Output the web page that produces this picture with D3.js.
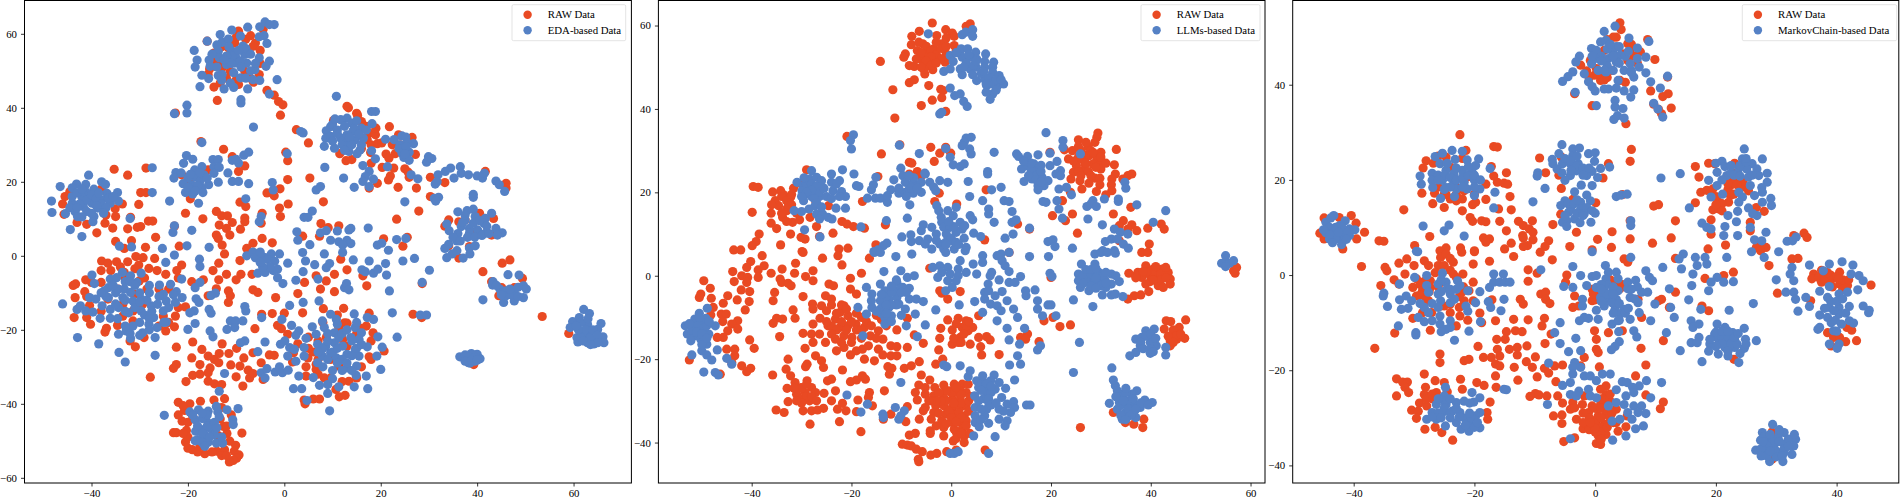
<!DOCTYPE html>
<html>
<head>
<meta charset="utf-8">
<script src="https://d3js.org/d3.v7.min.js"></script>
<style>
html, body { margin: 0; padding: 0; background: #fff; }
svg { display: block; }
text { font-family: "Liberation Serif", serif; fill: #000; }
</style>
</head>
<body>
<div id="chart"></div>
<script>
var rawEda = [[-16,58],[-9.5,60.7],[-8,58.5],[-6,57.5],[-6.5,56.6],[-5,55.5],[-14.6,54.8],[-14.1,52.6],[-11.6,56.2],[-10.3,57.5],[-12.9,50.8],[-11.2,49.9],[-8.2,49.9],[-5.2,49],[-15.8,49],[-14.6,45.6],[-13.3,46.7],[-9.5,46.3],[-6.4,46.9],[-13.9,42],[-3.6,44.7],[-2.1,43.4],[-1.2,41.7],[-0.3,40.8],[-0.8,38],[-4.4,61.2],[-22.6,38.6],
[13,40.4],[13.3,40],[10.2,36.6],[15.2,37.9],[16,36.3],[21.8,34.9],[17.6,33.2],[18.9,32.7],[17.2,31.4],[19.3,30.3],[20.2,30.5],[22.4,30],[23.7,32.7],[26.5,32],[27.2,27.4],[23,27.6],[21.1,27.5],[21.7,26.4],[17.9,27.9],[11.5,27.6],[12.8,25.7],[20.3,23.9],[22.7,23.7],[25,23.5],[25.7,22.6],[22,21.6],[21.6,20.5],[25.9,21.2],[30.3,21.2],[33.3,19.8],[19.3,19.6],[17.6,18.3],[23.6,18.5],[27.4,18.3],[30.3,16],[27.9,12.1],[23.3,9.9],[41.7,22.8],[46,19.6],[46,18.3],
[33.3,8],[34.1,9.7],[36.2,9.2],[40.5,11.5],[43.4,10.1],[43,5.6],[38.4,2.5],[39.2,6.1],[37.5,9.7],[34.1,2.7],
[-35.3,23.4],[-32.5,21.8],[-28.7,23.7],[-29.8,17.1],[-28.7,17.1],[-33.6,14],[-30.2,13.9],[-35.1,12.7],[-31.9,10.4],[-35,10.6],[-28.2,9.4],[-27.3,9.4],[-29.8,7.9],[-30.5,7.7],[-35.6,7.5],[-32.5,7.3],[-37.2,8.8],[-38.9,6.2],[-26.7,5],[-31.7,4.1],[-35,3.9],[-45.5,16],[-45.7,11.2],[-44.5,17.3],
[-17.3,30.9],[-12.6,28.8],[-20.5,11.5],[-16.9,10],[-22.8,8],[-19.5,15.4],[-21.3,21.9],[-19.6,20.1],[-15.8,23.2],[-10.8,26.8],[-8.2,24.3],[-9.5,22.8],[-9.2,14.5],[-8,13.3],[-14.1,12],[-13,10.8],[-11.8,10.8],[-8.2,10.2],[-8.2,9.2],[-10.8,9],[-13.5,8.3],[-12,7.4],[-9.1,7.2],[-14.1,5.6],[-13.7,4.7],[-11.3,5.6],[-12.9,2.9],[-4.8,8.8],[-4.6,11.5],[-3.6,17],[-2.1,16.2],[-0.9,18.1],[0.7,20.6],[0.7,25.7],[0.3,28],[0.8,14],[-1,12.9],[-0.8,10.6],
[2.5,34.1],[5,30.5],[5.3,21],[8.1,14.6],[7.6,8.7],[3.8,5.3],[9.1,7.6],[11.3,8.1],[7.3,5.3],[20.6,4.6],[25.5,5],[24.6,2.6],[-6.5,3.4],[-4.6,4.7],[-2.5,3.5],[-7.8,2],[-21.8,2.6],[-28.8,2.3],[-33.2,2],
[-37.9,-1.4],[-36.6,-2],[-34.8,-1.6],[-32.5,-1.6],[-30.8,-0.2],[-29.3,-0.5],[-30.2,-2.5],[-28.1,-3.4],[-26.9,-0.7],[-24.6,-5],[-26.4,-4],[-22.3,-4],[-21.3,-2.5],[-12.4,0.5],[-13.6,-2],[-14.8,-4],[-12,-5],[-9.2,-1.3],[-9,-5],[-10,-6.5],[-13.6,-6.5],[-16.8,-6.5],[-19.2,-7],[-14.1,-8.9],[-15.8,-10.8],[-11.6,-9.5],[-11.2,-10.8],[-11.6,-12.6],[-6.7,-5],[-6.5,-9.2],[-5.5,-9.9],[-1.8,-11.3],[2.8,-10.2],[4.2,-7.2],[6.6,-5.4],[8.7,-6.8],[7.5,-9],[10.4,-5],[10.4,-9.7],[13,-3.8],[16.3,-5.4],[17.1,-8.1],[11.7,-0.9],
[-41.2,-6.5],[-43.8,-8],[-43.3,-7.6],[-41.4,-9.7],[-40,-7.2],[-38,-7.2],[-43.4,-11.3],[-40.4,-13.4],[-43.6,-16.7],[-41,-16.7],[-40.2,-18.5],[-36.9,-19.6],[-37.2,-20.6],[-34.6,-18.8],[-33.5,-16.3],[-31.4,-17.6],[-32.7,-19.9],[-29.1,-22.1],[-24.6,-20.3],[-22.8,-19.2],[-20.5,-13.8],[-22.6,-16.3],[-30.9,-24.6],[-22.4,-24.7],[-19,-23.3],[-22.4,-29.4],[-23,-30.4],[-27.8,-32.8],[-34.5,-9],[-31.1,-10.4],[-28.5,-9],[-29.4,-13.1],[-31.4,-14.9],[-36.6,-11.7],[-33.5,-13.1],[-25.1,-16.3],[-30.1,-6.8],[-33.2,-4.5],
[-17.1,-25.3],[-19.2,-27.6],[-17.5,-29.4],[-15.8,-27.1],[-14.5,-28],[-13.5,-26.4],[-12.9,-23.8],[-13.6,-28.9],[-15.4,-30.3],[-15.8,-31.6],[-19,-32.3],[-17.5,-32],[-15.8,-33.9],[-14.5,-34.6],[-13,-34.8],[-20.4,-34],[-11.5,-26.4],[-11.1,-29.5],[-9.9,-25],[-8.4,-27.6],[-9.2,-29.8],[-10,-32.7],[-7.5,-30.9],[-7.2,-33],[-8.6,-35.2],[-6.1,-19.7],[-6.5,-26.2],[-4.8,-28.9],[-6.5,-31.8],[-3.1,-26.8],[-2.1,-26.9],[-4.4,-33.4],[-2.5,-15.6],[0,-15.5],[-4.7,-15.8],[-1.4,-18.8],[-0.6,-19.7],[0.7,-21.2],[2.8,-23.8],[1.9,-26.2],[1.7,-28.7],[4.9,-27.6],[4.5,-30],[4.5,-32.5],[6.6,-30.7],[8.3,-33],[9.6,-33],[3.8,-15.4],[8.1,-14.3],[11.3,-19.4],[12.3,-14.2],[12.5,-18.1],[13,-18.2],[17.6,-15.5],[15.5,-19.4],[18.4,-20.8],[18,-23],[20.7,-25.7],[17.6,-27.3],[12.1,-22.6],[8.7,-22.1],[7,-23],[13,-24.4],[9.6,-28],[6.6,-29.4],[11.3,-29.8],[13.4,-33.9],[10.7,-36.1],[11.4,-38.1],[12.6,-37.7],[4.1,-39],[4.3,-40],[6,-38.7],[7.3,-38.7],
[26.7,-15.8],[28.6,-7.5],[28.5,-16.7],[45.2,-2],[46.8,-1.1],[41.2,-4.3],[43,-7],[49.4,-6.1],[44.5,-10.8],[45.1,-8.6],[47.7,-8.6],[36.2,-0.6],[53.5,-16.4],[59,-21],[39.3,-29.4],[62,-22.6],
[-22,-39.6],[-19.6,-40],[-17.4,-39.3],[-14.6,-39],[-12.4,-38.6],[-20.7,-41.8],[-13.3,-44.1],[-21.2,-44.7],[-23,-47.8],[-22.4,-47.8],[-20.3,-47.2],[-11.9,-48],[-8.8,-47.9],[-20.5,-50.3],[-19.1,-52.4],[-16.5,-53.5],[-17.5,-51.5],[-14,-52.8],[-12.4,-52.4],[-11.3,-50.1],[-10.1,-51.2],[-10.4,-52.8],[-9.4,-53.8],[-9.9,-54.7],[-10.6,-55.3],[-11.4,-55.7],[-13.7,-48.6],[-12.6,-46.1],[-19,-43.4],
[-13,53],[-12,48],[-10,47.5],[-7,48],[-10,59],[-13,56.5],[-15.5,50.5],[-5,52],[-7,59.5],[17,35],[18,30],[19,34.5],[16,29],[15,38.5],[24,30],[18,25],[14,26],[-38,18],[-37,11],[-43,9],[-41,8.5],[-46,14],[-26,-9],[-24,-9],[-22,-6],[-29,-6],[-34,-3],[-31,-3.5],[-38,-4],[-36,-4],[-33,-6],[-26,-19],[-24,-18],[-22,-14],[-41,-11],[-38,-15],[-32,-23],[6,-26],[7,-28],[5,-22],[5,-25],[7,-32],[12,-34],[15,-33],[16,-30],[18,-28],[15,-21],[17,-19],[11,-16],[8,-18],[-22,-43],[-21,-40.5],[-20,-45],[-20,-49],[-21,-48],[-13,-41],[-11,-43],[-12,-46],[-13,-54],[-15,-53],[-18,-53],[-20,-52],[-12,-54]];

var edaPoints = [[-18.7,55.5],[-16,58],[-13.3,59.8],[-10.9,61],[-7.6,61.8],[-5.1,61.9],[-4,63.2],[-2.1,62.5],[-3.1,62.5],[-4.2,59.5],[-5.2,59.2],[-3.6,57.4],[-9.1,59.4],[-12.9,57.7],[-11.6,58.6],[-18.1,52.9],[-18.5,51],[-15.6,52.9],[-15.4,51.2],[-13.7,55.3],[-13.5,53.5],[-10.9,55.3],[-12,51.7],[-10,53.5],[-8.2,54.4],[-8.6,56.7],[-7.8,52.1],[-5.2,53.5],[-3.1,52.6],[-3.8,51.2],[-6.1,50.3],[-6.5,47.6],[-5.1,47.4],[-9.1,48.1],[-10.3,52.1],[-9.1,52.6],[-10.8,54],[-17.1,48.8],[-15.7,47.9],[-13.7,48.7],[-12.9,49],[-17.5,45.7],[-12.5,45.1],[-10.5,45.5],[-11.2,46.7],[-7.6,45.1],[-9,42.2],[-9,41.3],[-3.1,43.7],[-1.5,47.6],[-20.2,40.7],[-20.2,38.6],[-22.8,38.4],[-6.4,34.8],
[10.8,43.1],[18.1,39],[18.9,39],[13,37.2],[11.7,36.8],[9.6,34.9],[8.7,33.8],[14,35.9],[16,34.5],[18.2,35.7],[8.6,31.8],[9.6,32.3],[8.3,29.6],[10.4,29.1],[11.7,31.8],[13,32.7],[14.2,33.6],[14.7,31.4],[13,30.5],[13.4,28.2],[15.1,27.6],[15.7,28.6],[16.4,31.8],[21,31.5],[22.8,31.4],[24.4,32.4],[25.2,32.1],[26.8,30.3],[24.8,29.6],[24.4,27.8],[25.9,28],[24.8,26.6],[25.9,25.8],[18.9,26.2],[18.1,28.4],[21.4,24.1],[16.3,24.4],[17.6,22.8],[16.8,21.4],[18.5,20.7],[16.3,20.1],[17.6,18.7],[14.5,18.5],[12.3,21],[8.4,23.9],[26.3,21.9],[27.7,20.8],[29.5,25.3],[29.9,26.8],[30.6,26.3],[34.5,23.7],[33.4,22.8],[31.9,21.9],[31.3,19.4],[31.7,20],[35.2,21],[36.5,24.1],[36.7,22.3],[38.2,21.9],[40,21.6],[41.1,21],[41.5,22.3],[43.9,20.2],[44.6,19.2],[45.7,17.4],[39.2,16.6],[39.2,15.8],[31.1,15.5],[32,15.8],[31.4,14.8],[25,14.6],
[36,11.9],[37.9,12.2],[39.2,12.6],[43,11.5],[41.7,10.1],[39.6,10.6],[43.9,7.4],[45.2,6.2],[44.2,5.6],[33.7,8.6],[34.2,6.8],[36.7,7.9],[38.4,7.4],[40.1,7],[41.4,8.8],[37.5,9.7],[39.2,8.8],[41.7,6.1],[38.4,6.1],[35.8,4],[34.1,3.1],[33.3,2],[38.4,2.1],[39.6,2.7],
[-48.3,14.8],[-48.2,11.7],[-46.5,18.7],[-43.1,19.4],[-44,18.4],[-40.6,21.8],[-41.2,19.3],[-37.9,20],[-37.1,19.3],[-34.6,17.1],[-36.8,16.9],[-39.5,18],[-41.2,17.3],[-42,15.9],[-44,14.2],[-45.4,11.4],[-43.4,11.9],[-42.9,10.6],[-41.7,13.3],[-39.9,14.2],[-38.7,12.9],[-37.8,15.1],[-36.1,14.2],[-34.4,14.8],[-39.5,10.6],[-39.7,9.2],[-44.4,7.1],[-42,5.2],[-32,10.1],[-27.4,23.8],[-27.4,17.1],[-23.8,14.8],[-22.8,8.1],[-23.1,6.3],[-19.2,6.9],
[-17.1,30.6],[-20.3,27.1],[-19,26.1],[-20.9,25],[-17.1,24.1],[-18.6,23.2],[-22.5,22.5],[-21.4,22.4],[-22.9,21],[-18.6,21.4],[-17.5,20.1],[-19.2,19.2],[-17.1,18.3],[-15.7,19.2],[-20.5,17.1],[-19,16.7],[-16.9,17.1],[-17.8,14.2],[-14.8,26],[-13.7,26],[-14.6,24.1],[-13.5,23.9],[-16.7,21.9],[-14.6,22.3],[-13.7,19.9],[-11.7,22.4],[-10.8,25.8],[-9.5,25.1],[-8.4,27.2],[-7.4,28],[-10,26.1],[-10.8,20.1],[-9.5,20.1],[-7.4,19.5],[-8,15.4],[-2.5,19.8],[-2.3,17.8],
[0.6,27.6],[3.4,33.6],[3.9,33.2],[6.6,17.8],[7.5,18.7],[-4.8,10.6],[-5.2,9.2],[5.8,12.1],[4.1,10.4],[4.9,10.4],[2.6,6.5],[2.8,4.2],[5.3,3],[7.5,6.2],[8.7,6.8],[11,6.7],[13.4,7],[13.8,7.4],[17.4,7.5],[9.6,4.2],[11.3,3.8],[13,4.2],[13.8,3.3],[12.1,2.9],[19.3,2.9],[20.2,3.4],[23.3,4.4],[25.2,4.7],[21.6,1.5],[-25.3,2],[-20.2,2.7],[-15.6,2.3],[-34.2,2.6],[-31.7,2.4],
[-5.7,0.5],[-7.8,0],[-6.5,1],[-4.8,0],[-4,-0.5],[-2.7,0.5],[-1,0.5],[0.7,-2],[-5.5,-4.7],[-4,-4.5],[-2.3,-4],[-1.4,-3.6],[-0.3,-7.5],[-1.4,-5.9],[2.4,-6.6],[3.9,-4.3],[6.3,-2.4],[4.4,-1.4],[8.3,0.5],[3.8,0.9],[9.4,-2.1],[8.7,-3.2],[12.1,0.9],[14.3,-1.1],[17.6,-1.4],[16.1,-3.8],[16.8,-4.3],[18.5,-4.7],[19.4,-3.6],[21,-2.1],[21.2,-5.2],[24.6,-1.4],[27,-0.7],[30.1,-3.9],[28.6,-7.2],[21.8,-9.5],[12.5,-8.6],[12.9,-7.5],[13.4,-9.2],[7,-6.3],[3.9,-12.6],[7.2,-12.2],[1.1,-13.4],[14.5,-15.7],[22.4,-15.4],[23.4,-22],[28.2,-16],[29.5,-16],
[-22.8,0.2],[-24.6,-1.8],[-21.3,-6.3],[-17.6,-0.9],[-17.5,-2.9],[-17.5,-7.2],[-18.5,-8.6],[-18.3,-11.6],[-17.7,-12.6],[-14.3,-10.1],[-15.2,-10.7],[-15.6,-14.5],[-15.2,-15.5],[-8.2,-13.7],[-8,-14.9],[-4.7,-16.7],[-11.2,-17.6],[-10.1,-17.6],[-8.6,-17.6],[-10.3,-19.4],[-11.9,-19.9],[-15.4,-20.3],[-14.8,-21.9],[-8.2,-23],[-9.1,-23.5],[-4,-23.3],[-5.5,-25.9],[-0.5,-17.2],[1.5,-18.8],[3,-20.3],[2.4,-21.5],[4.5,-22.3],[5.8,-19.2],[6.6,-21.2],[-0.8,-23.9],[0.1,-23],[1.1,-24.8],[2.1,-25.3],[0.7,-27.1],[4.1,-24.8],[4.1,-27.1],[2.4,-28.5],[6.9,-23.9],[6.9,-28.9],[-12.4,-31.8],[-4.8,-31.6],[-4,-33],[-3.6,-30.5],[-1.9,-31.4],[-1,-30],[-0.4,-31.6],[0.8,-30.9],[3,-32.5],[6,-32.9],[7.3,-35],[9,-34.8],[10,-33.2],[11.3,-35.4],[9,-37.2],[1.9,-35.9],[3.6,-35.9],[4.7,-39.1],[9.4,-41.9],[14.5,-35.4],[17.3,-35.9],[17,-32.5],[14.9,-32.3],[20,-30.7],[19.2,-27.1],[20.3,-24.7],[17.2,-24.6],[15,-29.8],[13,-30.3],[9.6,-26.2],[7.9,-27.1],[10.8,-27.6],[13,-26.6],[14.7,-25.3],[15.5,-27.1],[10.4,-23.5],[12.1,-24.4],[10.4,-20.8],[11.3,-22.1],[7.9,-17.6],[9.6,-15.8],[10.8,-17.2],[8.3,-19.4],[14.7,-19.4],[16,-20.8],[13.8,-22.1],[17.2,-16.7],[18.5,-17.2],[19.4,-21.9],[15.5,-22.6],[8.6,-24.4],
[-46,-13],[-39.9,-5.2],[-39.4,-7.5],[-43,-14.5],[-42.3,-13.5],[-41.2,-14.9],[-40.4,-11.3],[-39.1,-11.7],[-39.7,-15.2],[-38.2,-16.9],[-42.9,-22.1],[-38.5,-23.8],[-34.3,-26.1],[-33,-28.7],[-26.8,-26.9],[-34.4,-21.2],[-31.9,-22.3],[-32.8,-20.3],[-29.4,-20.8],[-26.8,-22.1],[-26.4,-19.4],[-28.1,-18.5],[-24.5,-17.9],[-27.1,-16.7],[-29.7,-14.9],[-27.6,-13.5],[-29.7,-11.7],[-26.3,-13.1],[-24.5,-12.2],[-22.6,-12.6],[-25.1,-14.9],[-22.4,-9.7],[-23.6,-7.7],[-25.9,-7.9],[-25.1,-10.4],[-21.2,-11.3],[-18.7,-14.9],[-19.6,-15.4],[-18.5,-18.3],[-20,-19.9],[-36.5,-8.6],[-37.4,-9.5],[-36.1,-6.3],[-34.8,-5.9],[-33.6,-4.5],[-31.9,-5.4],[-29.7,-4.7],[-30.6,-7.2],[-28,-8],[-33.2,-9],[-31.9,-9.9],[-36.5,-11.3],[-37.8,-13.5],[-36.1,-14.5],[-34.4,-14],[-36.1,-16.9],[-34.6,-17],[-32.3,-15.4],[-31.4,-12.2],[-33.5,-11.3],[-31.4,-19],
[33.7,-0.5],[34.8,0.5],[35.8,1.4],[38.5,0.5],[37.1,-0.6],[46.4,-5.1],[48.7,-5.2],[43.3,-7],[43.2,-7.9],[41.2,-11.9],[44.7,-9],[46,-9.5],[45.5,-12.6],[47.7,-9.5],[47.7,-12.2],[49.6,-8.1],[50.2,-9],[49.6,-11.3],[46,-10.8],
[62.1,-14.5],[63.3,-15.6],[59.8,-17.8],[61.2,-16.7],[59.3,-19.4],[65.7,-18.3],[65,-19.9],[62.9,-18.5],[62.1,-20.3],[60.7,-22.1],[60.9,-23.3],[62.9,-21.7],[62.9,-23.5],[64.6,-22.6],[66.1,-21.9],[66.3,-23.5],[64.2,-23.8],
[36.4,-27.3],[38.8,-26.4],[40,-26.6],[40.6,-27.8],[38.2,-28.9],[39.5,-28.5],[37.8,-27.6],
[-24.9,-43.1],[-19.6,-42.2],[-17.8,-41.6],[-15.8,-42],[-14.1,-40.7],[-13.8,-42.2],[-11.9,-41.6],[-9.6,-41.3],[-13.5,-36.6],[-10.7,-44.3],[-10.6,-45.6],[-18.5,-44.3],[-15.8,-45.2],[-15,-47],[-16.7,-47],[-18.4,-47.4],[-18,-49.7],[-16.2,-48.8],[-14.5,-48.3],[-15.8,-50.4],[-14.1,-50.6],[-12.8,-50.6],[-17.5,-50],
[-12,54],[-11,52],[-9,51],[-8,56],[-7,54.5],[-12.5,53],[-14,51],[-10.5,49.5],[-9.5,55.5],[-11.5,56.5],[-6,52],[-7,50],[-13,47.5],[-8,48],[-15,54.5],[-14,57],[10,35.5],[11,34],[12.5,35],[14.5,34.5],[12,30],[10,31],[13.5,32],[15.5,33],[11,33],[14,30],[16,30],[12.5,28.5],[10.5,37],[15,36.5],[17,34],[-44,16],[-43,17],[-42,18],[-41,15],[-40,16.5],[-39,15.5],[-38.5,17],[-42.5,14],[-41,12],[-40,11.5],[-42,10.5],[-38,14],[-37,13],[-36.5,15.5],[-44.5,13],[-43,13],[-39,13.5],[-37.5,11.5],[-35.5,16],[-20,21],[-18,19],[-19.5,22],[-17.5,22.5],[-21,19.5],[-20,18.5],[-18.5,17.5],[-16,21],[37,9],[36,6],[38,5],[39.5,5],[41,5.5],[37.5,11],[40.5,9.5],[42,8],[42.5,6],[35,5],[36.5,4],
[-35,-10],[-33,-7],[-32,-7],[-31,-8],[-33,-12],[-35,-13],[-30,-10],[-28.5,-12],[-31,-14],[-33,-15],[-29,-16],[-27.5,-15],[-30,-18],[-28,-20],[-33,-19],[-34.5,-9],[-37,-11],[-38,-10],[-35.5,-8],[-24,-14],[-23,-10.5],[-26,-11],[-28,-10],[-30,-12.5],[-25,-18],[-28,-17],[-32,-21],[-30,-21.5],[-6,-0.5],[-5,1],[-3.5,-1],[-2,-1.5],[-3,-3],[-4.5,-3],[-5,-1.8],
[8,-25],[9,-23],[10,-26],[11,-25],[12,-28],[9,-28],[11,-29],[13,-29],[14,-27],[12,-21],[14,-23],[15,-25],[16,-24],[12,-31],[14,-31],[10,-31],[9,-21],[11,-18.5],[7,-26],[8,-30],[13,-20],[15,-18],[-17,-44],[-16,-43],[-18,-46],[-16,-46],[-14.5,-45],[-17,-48],[-15.5,-49],[-14,-46.5],[-17,-50.5],[-18.5,-50],[-19,-43],[-17,-42.5],[-13.5,-43.5],[-16.5,-51.5],[-13,-49],[61.5,-18],[62.5,-20],[63.5,-22],[61.5,-22],[63,-17],[61,-20],[64,-20],[65,-21.5],[62,-23],[65,-23.5],[60.5,-19],[63.5,-24],[38.5,-27.5],[39,-26.8],[37.5,-26.8],[39.5,-27.5],[38.5,-29],[37.5,-28.5],[38.8,-28.2],[40,-28.2],[44,-8],[47,-10.5],[48.5,-11],[46.8,-9],[45,-10.5],[48.5,-8.5],[24,30],[25.5,30.5],[23.8,29],[25.3,29.5],[25,27.5]];

var rawLlm = [[-3.8,60.6],[3,59.8],[3.8,60.4],[-6.4,58.6],[-7.9,57.4],[-1.1,59],[0.2,58.2],[0.6,57.4],[-2.9,57.6],[-8,55.4],[-5.7,55.6],[-9.2,53.2],[-9.5,52.4],[-6.8,54],[-5.2,53.2],[-3.5,54.4],[-1.9,55.6],[0.6,55.2],[-1,53.2],[-3.9,52],[-2.7,52.4],[-6,52],[-8.4,50.4],[-7.4,50.2],[-5.3,48.4],[-3.7,49.4],[-4.7,50.4],[-1.2,51.2],[-14.2,51.4],[-11.7,44.6],[-8.4,46.3],[-7.4,47],[-4.5,45.6],[-2.1,44.7],[-1.6,44.4],[-1.9,42.7],[-3.8,42.1],[-6,40.8],[-1.1,39.4],[-11.3,37.8],
[-20.9,33.4],[-14,29.2],[-10.3,31.4],[-4.1,30.8],[-2.3,29.4],[-1.1,30.8],[-0.1,29.4],[-8.4,27.2],[-7.9,27],[-3.4,27.4],[-6.8,25],[-8.4,24.4],[-6,24],[-14.7,23.8],[-29,25.4],[-2.4,19.8],[-3.3,17.8],[1.1,17.2],[7,20.6],[-17.8,17.8],[-39.7,21.4],[-38.7,21.2],[-35.8,20.1],[-34.2,20.4],[-33.6,19.4],[-31.6,21],[-35.3,18],[-34.6,16.8],[-32.2,18.8],[-32.6,17.2],[-33,15.6],[-33.8,14],[-31.8,12.8],[-36.1,15],[-39.9,15.2],[-36.1,12.6],[-35,11.3],[-38.5,10],[-39.1,8.2],[-39.9,7.2],[-34.2,7.4],[-43.6,6.2],[-42.2,6.2],[-32.2,10],[-30.1,9.2],[-29.3,8.8],[-30.4,13.4],[-28.3,14],[-27,11.8],[-26.4,9.4],[-23.7,10.2],[-24.6,16.8],[-27.2,18],[-21.9,13],[-20.9,12.4],[-19.6,11.8],[-17.4,11.4],[-29.9,5.8],[-22.5,6.4],[-20.7,6.6],[-15.1,7.4],[-13.2,12.2],[6.7,8.6],[11.6,5.6],[13.3,12.4],[15.7,11.2],
[25.5,32.6],[29.4,34.2],[29.2,33.2],[28.8,32],[27.4,31],[24.3,30],[30,29.6],[33.1,30.3],[23.5,28],[25.5,28.4],[27.6,28.8],[29.2,28],[30,26.8],[25.1,26.4],[26.8,26.8],[28.4,26.8],[30,25.6],[24.5,24.8],[26.4,25.2],[24,23.2],[25.8,22.8],[27.6,22.2],[28.8,23.4],[29.8,23.4],[32.7,26.6],[32.9,24.4],[32.2,23.2],[32.1,21.8],[29.8,21.8],[29.1,20.2],[32.2,20.4],[31,19.4],[26.2,20.8],[34.4,23.2],[35.4,24],[36.2,24.4],[19.8,29.6],[22.7,30.2],[22.3,18],[23.9,20],[24.3,14.8],[20.3,14.4],[22.9,13.2],[25.3,10.2],[32.5,14.8],[36,16.4],[34.5,13.2],[33.7,12],[36.2,12.2],[35.4,11.2],[37.2,10.8],[39.4,11.4],[42.1,12.4],[42.7,11.2],[33.7,8.4],[39.7,7.6],[38.2,5.6],[39.4,5.6],
[-37.9,4.8],[-37.5,2.4],[-40.2,3.4],[-41,2],[-43.8,1],[-38.7,1.4],[-42,0],[-40.8,-0.4],[-38.7,-0.4],[-36.1,0.6],[-33.9,1.6],[-34.3,-0.8],[-34,-1.6],[-43.5,-1.4],[-41,-1.6],[-31.2,3],[-31.4,0.6],[-32.7,-1.8],[-32.1,-2.4],[-29.7,5.6],[-25.8,4.2],[-22.7,4.8],[-21.9,2.6],[-27.7,1.2],[-29.2,-0.2],[-27.7,-1.2],[-18,0.6],[-20.2,-0.6],[-24.5,-2],[-23.6,-2.4],[-20.2,-3.2],[-19,-4.4],[-16.4,4.2],[-49.6,-1.2],[-48.3,-3],[-50.2,-4.4],[-50.5,-5.2],[-48.1,-5.4],[-45.7,-6.6],[-44.8,-4.8],[-42.1,-3.4],[-42.9,-5.8],[-40.4,-3.8],[-40.5,-6.2],[-41.3,-8.2],[-47.7,-7.6],[-48.2,-9.4],[-46.1,-9.2],[-45.1,-9.2],[-45.8,-11],[-42.8,-10.8],[-44,-11.6],[-42.8,-12.8],[-44.8,-13.2],[-45.7,-14.8],[-46.9,-14.8],[-40.4,-15.4],[-39.5,-17.4],[-45,-17.6],[-43.4,-17.6],[-43.4,-19.2],[-44,-20.8],[-42,-21.6],[-40.2,-22.2],[-41,-23],[-52.5,-20.2],[-46.3,-23.6],
[-35.4,-4],[-35.7,-6],[-31.7,-8.2],[-31.3,-10.2],[-35,-10.2],[-33.8,-10.4],[-35.7,-11.4],[-34.4,-14.6],[-29.7,-5],[-27.8,-6.8],[-26,-7.2],[-27.7,-8],[-25.2,-4.8],[-24,-5.6],[-25,-8.4],[-26.3,-10.2],[-27.7,-11.6],[-29.7,-13.8],[-28,-14],[-26.4,-14],[-24.7,-12],[-25.2,-16],[-27.7,-16],[-29.3,-17.4],[-27.2,-19.2],[-26,-20.4],[-28.9,-21.2],[-29.2,-21.8],[-25.6,-22],[-32.7,-20],[-33.1,-22.4],[-35.8,-23.8],
[-21.5,-7.2],[-22.3,-8.8],[-20.7,-9.6],[-23.2,-10.4],[-24,-12],[-22.3,-12.4],[-20.7,-12],[-19.1,-11.6],[-21.5,-14.4],[-19.9,-14.8],[-23.2,-15.2],[-21.5,-17.2],[-20.2,-19],[-17.8,-17.6],[-17.4,-20],[-16.6,-16.8],[-16.2,-14.4],[-17.4,-12.4],[-14.6,-13.2],[-13.7,-15.2],[-14.6,-17.6],[-15.4,-20.4],[-13.7,-19],[-12.1,-16.8],[-10.9,-17],[-10.9,-13],[-8.8,-17.2],[-8.8,-10.2],[-12.1,-19.2],[-10.9,-19.2],[-12.7,-21.8],[-11.9,-22.2],[-12.4,-23.6],[-9.4,-22.2],[-8,-21.6],
[-21.8,-22.6],[-24.8,-25.2],[-24,-24.8],[-20.2,-25.4],[-19,-25],[-17.8,-24],[-17.2,-24.8],[-13.4,-27.6],[-16.4,-28],[-16.6,-29.2],[-18.7,-29.8],[-15.8,-31.2],[-23.2,-27.6],[-24,-30],[-21.8,-30.6],[-22.8,-32],[-21.1,-32.4],[-19,-32.6],[-22.4,-35],[-18.1,-37.4],
[-32.2,-24],[-31.3,-25.6],[-32.9,-27],[-28.9,-25.2],[-30.1,-26.8],[-28,-26.8],[-31,-28.4],[-29.3,-28],[-27.2,-28],[-25.5,-28.2],[-30.1,-29.6],[-28.4,-30],[-32.7,-30.2],[-29.7,-32.4],[-28,-32.4],[-26.8,-32.2],[-25.6,-31.8],[-35.1,-32.2],[-33.5,-32.8],[-28.3,-35.6],
[-6,-23.8],[-4.3,-25],[-6.5,-26.2],[-5.2,-26.8],[-3.3,-26.8],[-7.2,-28],[-5.2,-28.4],[-6.8,-29.8],[-3.5,-28.8],[-1.5,-26.2],[0.6,-26],[2.2,-26],[3.4,-26],[-0.2,-27.6],[1.8,-27.6],[3,-28],[-1.5,-29.2],[0.2,-29.6],[1.8,-29.6],[-3.1,-31.2],[-1.5,-31.2],[0.2,-31.6],[1.8,-31.6],[3,-31.2],[-5.2,-31.6],[-3.5,-32.8],[-1.1,-33.2],[1,-33.2],[2.6,-33.6],[-5.6,-32.4],[-4,-34.4],[-6.4,-34.4],[-1.9,-34.8],[0.2,-35.2],[1.8,-35.2],[3,-34.8],[0.6,-36.8],[2.2,-36.8],[-1.5,-36.4],[-4.2,-37.2],[-4.2,-37.8],[-1.5,-38.4],[0.4,-39.6],[2.6,-38.4],[3.7,-37.8],[2.6,-40],[-8.4,-38.2],[-7.2,-37.8],[-9.8,-40.4],[-8.8,-40.6],[-8,-40.8],[-7,-41.6],[-5.8,-42.2],[-6.6,-44],[-6.5,-44.6],[-4.1,-43],[-2.9,-42.6],[-0.9,-42.2],[1,-41.8],[6.8,-41.8],[-9.1,-35],[-8.8,-31.4],[-12.1,-33.2],[-13.6,-34.4],
[-0.7,-10.6],[1.4,-10.2],[3,-10.8],[2.2,-12.4],[4.3,-12.4],[3.4,-13.2],[-2.1,-12.6],[0.2,-13],[-2.3,-15],[1.8,-14.8],[0.2,-16.4],[1.4,-16],[3.8,-16.4],[5.5,-14.8],[7.1,-14.6],[7.8,-15.4],[5.9,-17],[6.1,-19],[9.6,-18.9],[-5.6,-16.2],[-7.4,-14.2],[-2.5,-17.8],[-1.7,-20],[-3.1,-21.2],[-6.4,-20.6],[5.5,-9.6],
[-2.3,-3.6],[-1.9,-4.2],[-0.7,-5.6],[1.8,-3.8],[-4.3,1.8],[13.9,-14.8],[15.3,-14],[14.9,-15.2],[17.6,-15.8],[20,-0.4],[18.6,-10.8],[20.4,-10],[21.8,-12.2],[23.9,-11.8],[25.9,-36.4],
[35.6,0.6],[37.4,0.8],[39,2.4],[40.5,1.6],[42.3,1.6],[43.5,0.8],[38.2,-0.4],[39.9,0],[41.5,0],[43.9,-0.8],[43.9,-2],[41.5,-2.4],[39.9,-1.4],[39.6,-3.8],[38,-4.6],[36.7,-4.8],[35.4,-5.6],[43.1,-10.8],[44,-11],[47,-10.6],[42.7,-12.8],[45.7,-12.4],[44.8,-14],[46.8,-15],[45.2,-15.2],[43.9,-15.6],[43.9,-16.8],[34.9,-35.2],[36.6,-35.6],[38.6,-34.4],[38.4,-36.4],[32.5,-32.8],[56.6,1.2],[57.2,2],[56.9,0.6],
[-5,55],[-4,54],[-3,53],[-2,52],[-4,52.5],[-2,54.5],[-3,56],[-1,55],[-5,51.5],[-4,50.5],[-6,53.5],[-7,52],[-6.5,56],[-3,51],[-5.5,49.5],[-1,57],[-6,50],[1,54],[-0.5,52],[26,30],[27,29],[28,30],[26,28],[27,27],[28.5,29.5],[29,26],[25.5,25],[27.5,25],[26,24],[28,24],[24.5,27.5],[25.5,31],[27,32],[30,28.5],[31,27],[-34,19],[-33,18],[-32,17],[-33,16],[-34,15],[-33,13],[-31,15],[-32,19.5],[-30,22],[-36,17],
[-24,-7],[-22,-7],[-23,-9],[-21,-8],[-19,-9],[-22,-11],[-20,-11],[-18,-10],[-23,-13],[-21,-13],[-19,-13],[-17,-11],[-22,-16],[-20,-16],[-18,-15],[-16,-12],[-23,-18],[-19,-18],[-15,-15],[-24,-14],[-25,-11],[-18,-13],[-13,-12],[-14,-10.5],[-15,-9.5],[-30,-27],[-29,-29],[-30,-30.5],[-28,-29],[-31,-30],[-27,-30],[-29,-26],[-31.5,-27],
[1,-28],[-1,-30],[0,-33],[2,-30.5],[0.5,-30.5],[-0.5,-32.5],[1.5,-33],[0,-34],[2,-34],[1,-35],[1,-37.5],[-1,-35.5],[3,-36],[-2.5,-33],[-2,-30],[0,-28],[2,-28.5],[-1,-27.5],[1,-26.8],[-3,-30],[-4,-30],[3.5,-30],[3.5,-32.5],[4,-29],[1,-39],[2,-37.8],[-3,-36],[-2.5,-28],[-4.5,-30],[40,1],[41,1],[39,0.8],[42,0.5],[42,-1],[40.5,-1],[43,-0.5],[38.5,1],[37,0],[41,2.2],[43,2],[42.5,-2.8],[37,-0.5],[39,-2],[44.5,-13],[45,-14.5],[43.5,-14.5],[46,-14],[44.5,-16],[1,-11.5],[3,-12],[3.5,-11],[2.5,-14],[0.5,-15],[2,-16]];

var llmPoints = [[-4.6,58],[2.2,57.8],[2.9,58.4],[4.3,59],[4.3,57.4],[2,54.4],[3.3,54.4],[4.9,53.6],[6.9,53.2],[-0.2,52.8],[0.4,51.4],[2.2,52.4],[3.8,52.4],[5.1,52],[6.7,51.4],[8.5,51.2],[6.7,50],[8.3,50],[-1.5,49],[-0.2,49.6],[1.8,49.6],[2.2,48.2],[3.8,49.6],[4.3,48.2],[5.1,46.8],[6.7,47.2],[8.3,48.8],[9.6,48],[8.8,46.8],[7.1,45.6],[9.2,45.4],[10.5,46],[8.3,43.6],[7.8,42.3],[-0.2,45],[0.7,43.2],[1.8,43.6],[2.5,41.8],[3.2,40.6],[-2.3,38.8],[-1.9,39.2],
[-19.6,33.8],[-20.2,32.4],[-20,30.4],[-10.4,31.3],[-6.4,29.3],[-1.1,30.5],[-0.2,28.4],[4,33.2],[3,33],[2.6,32],[2.2,31.2],[3.7,30.4],[4,29.2],[8.6,29.6],[0.4,26.6],[1.8,26.2],[2.6,26.8],[-10.1,25.8],[-5.3,24.6],[7.3,25],[7.3,24.4],[3.4,22.6],[3.7,19],[6.3,18],[8.1,20.6],[10,21.2],[10.6,18],[11.6,17.8],[7.5,16],[7.5,14.8],[8.6,12.8],[12.2,15.4],[12.2,12.8],[13,13.4],[15.7,11.4],[12.4,10],[10.8,9],
[-30.9,22.4],[-28,25.2],[-29.6,21.6],[-28.4,23.2],[-27,23.6],[-26,22.8],[-24,24.4],[-21.8,25.4],[-19.5,24.4],[-24,22.4],[-22.4,22.8],[-28.4,20.8],[-27.2,20.4],[-26,20.8],[-29.1,19.6],[-29.9,20.4],[-28,19],[-29.6,18],[-26.4,19],[-23.7,20.4],[-22,20.2],[-21.2,19],[-22.4,19],[-19,21.6],[-18.5,21.4],[-27.3,16.8],[-28.5,16],[-30,15.4],[-31.5,15.6],[-27,14.8],[-25.8,14.8],[-26.4,13.6],[-24.7,14],[-23.9,13.6],[-23.1,16.2],[-21.2,16.2],[-29.4,11],[-26.3,9.3],
[-16.8,18.6],[-16,20.6],[-15.6,21.8],[-15.1,23.6],[-15.2,18.6],[-14.2,18.6],[-12.8,17.6],[-12.8,19.2],[-11.5,23],[-12.1,20.6],[-10.5,19.8],[-9.2,20],[-9.7,24],[-9.2,22.4],[-7.6,22.4],[-6,22.4],[-8.4,20.8],[-7.6,19.8],[-6,20],[-8.3,17],[-5.2,24.4],[-4.3,22.4],[-3.5,21.2],[-2.3,22.8],[-0.7,22.4],[-3.1,20.4],
[-2.9,16.8],[-2.5,15.6],[-2,14],[-0.7,15.6],[0.4,14.4],[1,16.4],[3.8,14.4],[4.3,13.4],[1.8,12.8],[-1.9,12.8],[-1.5,11.6],[-5.6,12.2],[-6,10.8],[-3.9,11.6],[-0.2,11.6],[2.2,11.2],[1,10.4],[4.5,10.2],[5.9,9.4],[2.6,9],[-8.8,13.8],[-13,13.2],[-18.1,11.7],[-9.9,9.3],[-8.1,9.8],[-8,8.2],[-6.4,8.4],[-4.7,8.8],[-5.2,7.6],[-2.3,7.6],[-1.1,8],[0.2,8.4],[-1.5,6.4],[0.6,6.4],[3,6.8],[-3.9,6.4],[-12.9,7.8],[-13.6,7.2],[-14.7,6.2],[-15.5,5.8],
[19,34.3],[22.4,32.4],[22.4,30.8],[25.9,29.2],[13.1,29.2],[13.5,28.6],[15.3,28.6],[17.4,29],[19.8,29.4],[21.2,27.4],[19.8,26.4],[14.1,25.6],[15.3,26.4],[16.6,26.8],[17.3,25.2],[21.9,25.2],[21,24.4],[16.2,24.4],[14.6,22.6],[16.2,23.2],[18.2,23.6],[19.4,22.8],[17.4,21.6],[18.6,21.6],[17.4,20.6],[21.9,24],[23.1,21.2],[21.6,20.8],[24.1,19.4],[21.2,18],[18.4,17.8],[19,17.6],[21.6,16],[22.3,13.8],[27.4,13.6],[27.2,16.6],[28.4,18],[28,17.2],[29.1,16.6],[30.7,18.4],[33.5,18.4],[33.5,17.8],[34.8,22.4],[35,21],[37.2,17],[43,15.6],[40.5,12.8],[30.3,12.2],[32.7,11.2],[33.9,10.4],[35.4,10],[30.9,8.2],[32.1,8.8],[33.3,8.8],[34.5,7.6],[35.5,6.6],[30.4,6],[32.7,6],[24.3,6.6],[19.4,8.2],[20.4,8.6],[20.8,7],
[55.2,3.2],[54.2,3],[55.8,3],[55,4.8],[56.6,3.6],[55,2.2],
[-15.4,5.6],[-14.2,5.6],[-11.1,4.6],[-7.9,5.2],[-1.1,5.6],[2.8,6],[6.3,4.8],[6.3,3.2],[4.4,2.8],[1.8,3.6],[9.2,4.8],[10,5.2],[11.6,5.6],[10.2,3.6],[10.8,2.4],[11.6,1],[8.1,0.8],[7.8,0],[13.9,-0.2],[9.6,-1],[15.7,4.6],[19.5,4.6],[19.8,0.6],[20.2,-0.2],[26.1,2.8],[28.8,5.2],[28.8,2.8],[30,5.6],[31.3,5.6],[32.9,5.4],
[25.5,0.4],[27.2,0.8],[29.6,0.8],[32.1,0.4],[25.5,-1.2],[27.6,-0.8],[29.2,-1.2],[30.9,-1.2],[33.7,-1.4],[25.9,-2.8],[27.6,-3.6],[30,-2.4],[32.1,-2],[30.3,-4.6],[32.1,-4.6],[32.9,-4.4],[34.4,-5],[24.5,-5.8],[28.4,-7.4],
[-13.5,1],[-17,-2.8],[-10.1,1.2],[-8.8,-0.4],[-7.4,0],[-14.2,-2],[-10.9,-1.6],[-9.7,-2.8],[-8.4,-3],[-15.9,-4.4],[-13.3,-3.6],[-11.3,-3.6],[-14.2,-6],[-12.5,-5.6],[-10.9,-5.2],[-8.4,-5.6],[-7,-5.6],[-5.6,-6.2],[-18.7,-7.6],[-17,-9.2],[-15.9,-7.6],[-14.2,-8],[-12.5,-7.6],[-10.5,-6.8],[-9.2,-8],[-13.3,-10],[-12,-9.6],[-13.3,-11.6],[-7.2,-9.2],[-9,-12],[-5.2,-11.8],[-6.8,-14.6],[-17.7,-14.4],[-3.1,-8.2],
[-3.7,2],[-2.3,2.4],[-0.7,2],[1.4,1.6],[-1.9,0.8],[-0.2,0.4],[1.4,0],[3,0.8],[5.1,0.4],[-2.7,-0.4],[-0.7,-1.2],[1,-1.2],[0.2,-2.8],[-1.1,-3.6],[7.4,-2],[11.6,-1.6],[12.8,-1.6],[6.7,-4],[7.5,-3.6],[6.7,-5.6],[8.8,-4.8],[10.2,-3.8],[7.9,-6.8],[9.2,-7.2],[10,-8.4],[9.2,-10.8],[6.3,-8.8],[11.2,-6],[12.5,-8],[13.3,-10],[14.9,-3.6],[15,-4.8],[16.8,-3.4],[17.3,-6],[17.3,-8],[4.7,-6.2],[1.6,-7],[19.4,-7],[20,-7],[18.3,-9.6],[21,-9.6],[14.7,-12.6],[11.2,-12.6],[11.6,-15.4],[13.7,-16.4],[13.3,-19.2],[13.9,-21.2],[11.7,-21.4],[17.3,-17.8],[17.9,-16.8],[25.7,-16],[24.5,-23.2],
[37,-15.2],[39,-13.2],[40.7,-12.8],[38.2,-14.8],[39.9,-16],[41.1,-16.8],[37.9,-16.8],[35.8,-19.2],[37,-18.4],[39.9,-18.6],[43,-17.2],[43,-19],
[32.2,-22.1],[32.5,-25],[32.9,-26.4],[31.7,-30.6],[33.3,-27.6],[34.5,-28.4],[37.2,-27.6],[36.2,-28.4],[38.8,-29.8],[40.3,-30.4],[33.7,-30.4],[35,-30.8],[36.6,-30.8],[37.9,-31.6],[33.3,-32],[34.9,-32.8],[36.6,-32.8],[34.3,-34.4],[37,-34],
[-48.9,-7.8],[-50.5,-9],[-49.2,-10.2],[-51.4,-10.4],[-53.3,-12],[-47.3,-12],[-51.8,-12.4],[-50.2,-12.8],[-48.6,-14],[-52.9,-14],[-51.4,-14.4],[-50.2,-15.2],[-52.2,-15.6],[-49,-16.4],[-46.9,-17.8],[-50,-18],[-52,-19],[-49,-19],[-48,-20.2],[-45,-19.8],[-44,-21.2],[-49.6,-23.1],[-47.3,-23.2],[-46.7,-23.8],
[-10.1,-25.6],[-20.9,-28.6],[-16.8,-30.8],[-18.1,-32.7],[-13.7,-33.2],[-13.6,-34],[-11.2,-31.6],[-10.5,-34.4],[-9.4,-32.4],[-10.1,-33.6],
[3.4,-24.2],[3.8,-22.8],[1.8,-21.6],[-1.5,-21.4],[-0.9,-21.8],[8.6,-23.8],[5.1,-25.2],[6.3,-25.2],[7.9,-25.2],[9.6,-25.6],[12.7,-25],[5.5,-26.8],[7.1,-27.2],[8.8,-27.2],[10.9,-27],[4.7,-28.8],[7.1,-28.8],[10.1,-29.2],[7.5,-30.4],[4.8,-31.6],[7.1,-32],[6.7,-33.6],[4.8,-33.6],[9.6,-32],[11.2,-30.8],[12.5,-30.2],[12.7,-31.6],[15.1,-31],[15.8,-31],[11.9,-32.8],[9.6,-34.4],[11.2,-34.8],[10.8,-36],[7.5,-35.4],[4.8,-35.2],[5.6,-36.2],[4.5,-38.4],[8.8,-38.6],[7.5,-42.6],[-0.2,-42.6],[0.6,-42.6],[1.4,-42.2],
[3,51],[5,50],[6,48.5],[7.5,47.5],[8,46],[7,44],[9,47],[10,47],[9,44.5],[4.5,50.5],[6.5,49],[7,46],[3.5,53],[5,51.5],[1,53.5],[2.5,50],[-29,22],[-28,22],[-27,21.5],[-26.5,20],[-28,20.5],[-25.5,21],[-29,20],[-27.5,18.5],[-25,19],[-27,17.5],[-26,16.5],[-30,19],[-24,18.5],[-23,22],[-29.5,23.5],[16,25.5],[17,24],[18,25],[15.5,24],[17,23],[18,22.5],[16,27],[18,26.5],[14.5,27.5],[-7.5,23.5],[-8,21],[-6.8,21],[-8.5,24],[-10.5,21],[-9,19],[-1,10],[0,9],[1,8],[-1,7.5],[1.5,7.5],[0.5,11.8],[2.7,12],[-0.5,13],[-3,10],[-3,8.5],
[-13,-5],[-12,-4],[-10,-3],[-11,-7],[-12,-7],[-13,-7],[-14,-9],[-9,-4],[-11,-1],[-12,-2.5],[-13,-9],[-16,-6],[-12,-11],[-10,-4],[-14,-4.5],[-15,-8.5],[-10,-9.5],[6,-26],[7,-26],[8,-28],[6.5,-29.5],[6,-27.5],[7.5,-29.5],[8,-31],[5.5,-30],[6,-32],[8,-26.5],[6,-34.5],[10.5,-32.5],[6.3,-24],[9,-30.5],[34,-29],[35,-28],[35.5,-30],[36.5,-29.5],[34,-31],[35.5,-32],[36,-33.5],[34,-33.5],[35,-34.5],[38,-30.5],[33,-29],[37,-32],[35,-27],[39.5,-31],[34.5,-30],
[26.5,0],[28,0.5],[28.5,-1.8],[30.5,0],[31,0.8],[29,-0.5],[26.5,-1.8],[28,-2.5],[31,-2.8],[29,-3],[31,-1.8],[33,0],[27,1.5],[28,1.5],[29,1.8],[-50,-11],[-51,-12],[-49.5,-12.5],[-52,-13],[-51,-13.5],[-50,-14],[-49,-12],[-48.5,-11],[-50,-16.5],[-49,-15],[-50.5,-10],[-52.5,-11.5],[39,-14.5],[40,-14],[38,-16],[40,-17.5],[41,-15],[38.5,-17.5],[40.5,-18.2]];

var rawMarkov = [[4.1,53],[4.3,51.6],[3.5,50],[8.7,49.5],[5.4,48.6],[5.8,47.2],[7.5,46.9],[9.9,45.3],[-0.8,45.1],[-2.4,44.1],[0.2,43.4],[-1.4,42.9],[-0.1,42],[0.9,40.9],[4.1,40.9],[2.8,43],[5.4,45.1],[1.5,47.2],[4.8,46.5],[12,41.6],[9.2,38.7],[11.2,37.5],[12.1,38.1],[9.7,35.9],[10.5,34.8],[11,33.9],[12.6,35.1],[-3.4,38.1],[-0.5,35.6],[5.1,31.8],
[-22.4,29.5],[-16.8,27],[-16.2,26.9],[-21.4,26.2],[-24.7,24.8],[-26.8,23.5],[-28.5,22.5],[-17.2,22.8],[-14.7,21.5],[-16.8,20.8],[-16.2,19.5],[-15.1,19.3],[-14.5,19.1],[-14.1,16.5],[-28.7,17.2],[-26.6,17.2],[-24,16],[-23,15.6],[-24.7,17],[-21.7,17.7],[-19.8,15.3],[-20.3,14.8],[-18.1,15.9],[-26.9,15],[-25,14.2],[-22,13.5],[-16,13.9],[-13.9,13.7],[-31.7,13.7],[-23.2,18.8],[-21.2,20.6],[-18.1,19.1],[-26,18.5],[-24,22.7],
[-9.2,24.6],[-5.6,24.8],[-8.2,21.5],[-6,21],[1.3,20.4],[2.2,23.4],[-5.6,18.2],[-3.7,15.9],[0.1,15.2],[-5.7,12.8],[6,26.4],[5.8,23.9],[4.5,16.9],[9.7,14.5],[10.5,14.8],[13.3,11.4],[5.8,11.4],[2.8,9.1],[5.8,7.6],[0.4,7.5],[9.5,6.7],[12.6,7.8],[2.7,5.8],[-0.5,5.3],
[16.6,22.8],[18.8,23.5],[19.8,23.4],[23.1,23.5],[17.2,20.6],[21.8,19.9],[23.8,20.6],[17.5,17.4],[18.5,17.8],[19.5,18.1],[22.4,18.8],[24.4,18.5],[25.4,17.7],[22.4,16.7],[16.6,15.2],[20.5,15.3],[22.1,15.3],[19.5,13.7],[20.5,13.9],[26.7,14.2],[28,13.4],[19.2,11.6],[25.7,11.1],[25.7,9.3],[19.2,8.6],[18.7,5.5],[21.6,6.3],[32.9,8.3],[34.6,8.8],[35.1,7.9],[27.4,6.5],[28.3,5.8],[26.7,5.8],
[-44.9,12],[-42.4,12.1],[-40.4,12.5],[-39.6,10.9],[-45.6,8.8],[-44.9,7.6],[-39.5,7.6],[-38.2,9],[-35.8,7.2],[-35,7.1],[-29.9,6.2],[-27.4,8.1],[-41.8,5.5],
[-20.7,12.1],[-20.3,11.3],[-18.8,11.4],[-18.1,11.2],[-15.8,11.3],[-12.7,11.3],[-11.9,10.4],[-10.4,11.4],[-10.9,9.7],[-10.3,9],[-14.7,9.3],[-12,8.3],[-11.9,7.8],[-18.5,7.8],[-17.5,7.6],[-18.1,6.9],[-13.9,6.7],[-10.3,7.4],[-11.2,6.2],[-11.9,6],[-7.7,7.2],[-8.3,6],[-4.2,6],[-7,10.6],[-3.1,9],[-15,5.5],[-22.3,5.7],[-24.7,5.7],[-25.7,5.1],[-20,5.1],
[-38.7,1.8],[-34.8,1.6],[-34.5,0.9],[-32.5,2.5],[-31.2,3.4],[-33.3,-1],[-35.5,-2.2],[-31.5,0.2],[-32.5,-1.9],[-30,2],[-28.3,3],[-27.6,2],[-25.6,3.7],[-26,2],[-24.7,4.4],[-23.5,2.7],[-20.2,2.3],[-20,4.9],[-22.1,4.8],[-29.6,-0.8],[-30.2,-2.6],[-28.6,-3.3],[-29.6,-4.4],[-27.3,-2.6],[-27.3,-1.2],[-25.6,-1.5],[-23.5,0.2],[-21.9,0.2],[-20.2,-1.5],[-20.9,-3.3],[-22.1,-3.6],[-21.7,-5.4],[-20.2,-5.4],[-25.6,-6.5],[-24,-6.1],[-27.6,-5.4],[-28.6,-7.9],[-30.2,-9.1],[-27.1,-7.9],[-24,-7.9],[-22.4,-8.6],[-21.1,-9.5],[-19.1,-8],[-18.8,-10],[-16.5,-9.6],[-23,-10.7],[-27.3,-11.6],[-33.2,-12.2],[-36.5,-15.4],
[-17.5,2.9],[-13.5,3.9],[-11.1,1.1],[-11.1,-1.3],[-9.6,0.4],[-9.1,4.8],[-7.1,3.2],[-4.7,0],[-4.9,-1.5],[-9,-4],[-8.2,-3.6],[-8.2,-5.1],[-7.5,-6],[-12.4,-5.1],[-11.9,-6.1],[-17.1,-5.2],[-8.4,-9.1],[-8.8,-10.7],[-11.1,-9.4],[-13.5,-9.3],[-14.7,-11.9],[-13.2,-11.7],[-12.1,-11.9],[-7.3,-12.4],[-8.3,-14.4],[-16.3,-13.5],[-14.9,-13.5],[-14.2,-15.6],[-12.9,-15.2],[-11.3,-14.9],[-19.4,-15],[-16.2,-15.6],[-12.9,-16.8],[-25.7,-16.6],[-25.7,-18.4],[-21.7,-18],[-20.9,-17.7],[-18.5,-17.3],[-17.2,-17.3],[-15.8,-17],[-16.5,-18.7],[-15.8,-19.1],[-13.4,-19.4],[-16.5,-21.2],[-12.8,-22.1],[-16.4,-23.6],[-9.9,-17.2],[-11.4,-18.2],[-10.4,-19.4],[-8.4,-19.6],[-9.6,-21.4],[-7.7,-20.6],[-6.7,-19.1],[-6.5,-22.4],[-5.4,-18.9],[-10.8,-25.5],[-9.9,-24.9],[-9.3,-25.2],[-8,-25.4],
[0.2,-13.5],[-0.1,-11.7],[0.2,-15.6],[-1.8,-17.3],[0.5,-16.3],[7.6,-15.4],[2.2,-12.1],[4.5,-11.7],[8.4,-18.9],[0.7,-19.3],[-2.4,-19.1],[6.7,-21.2],
[0.2,-3.6],[-0.5,-5.4],[-3.4,-4.4],[-3.7,-6.8],[-2.7,-6.5],[3.5,-1.9],[4.1,-2.9],[7.1,-5.1],[7.7,-8.9],[11,-5.1],[10.5,-5.4],[12.3,-6.8],[13.3,-3.6],[17.7,-6.5],[18.8,-7.5],[11.3,-13.8],[4.8,3.4],[5.4,2.7],[21.3,-0.1],[18.2,-0.7],[22.9,0.6],[13.3,3.5],[23,-17.7],
[27.4,5.1],[28.8,2],[32.6,3.4],[33.6,3.5],[30.2,-3.8],[35.7,-5.4],[36.2,0.2],[35.9,-0.8],[38.2,-0.5],[37.5,-1.5],[39.2,-0.8],[40.5,0.6],[40.5,-1.9],[41.8,-2.2],[45.7,-2.1],[41.7,-11],[42.5,-11.6],[38.5,-12.1],[39.5,-13.1],[40.5,-13.1],[41.5,-14],[43.3,-13.8],[39.1,-14.9],[38.8,-1.5],
[-32.9,-21.8],[-31.9,-22.5],[-31.1,-22.5],[-31.5,-23.6],[-32.9,-25.4],[-30.9,-24.7],[-28.3,-20.8],[-26.5,-22.2],[-25,-22.6],[-22.3,-21.9],[-19.6,-22.6],[-18.4,-23.2],[-28.1,-23.6],[-28.3,-25.1],[-26.3,-24.7],[-29.1,-26.9],[-30.4,-28.4],[-29.3,-28.6],[-29.6,-30.1],[-27.9,-27.5],[-17.4,-26.7],[-17.9,-28.9],[-17.8,-30.3],[-28.2,-32.4],[-25.4,-33.1],[-23.6,-34.7],
[-6.9,-29.6],[-5.5,-29.4],[-5.5,-31.2],[-3.1,-30.3],[-2,-32.3],[-5.4,-26.9],[-3.7,-26.8],[-4.1,-28.2],[-3.4,-27.9],[-6.2,-25.4],[-5.2,-35],[-3.4,-34.2],[0.2,-35.4],[0.9,-35.6],[0.5,-33.7],[1.8,-33.5],[3.8,-32.8],[5.1,-31.9],[-1.1,-28.9],[-0.5,-27.5],[0.9,-27.2],[2.2,-27.9],[3.5,-28.2],[-0.8,-30.3],[0.5,-29.6],[1.8,-29.3],[0.2,-31.4],[1.5,-31.4],[-1.1,-31.7],[2.5,-30.3],[1.8,-23.3],[1.8,-25.1],[0.9,-24],[2.5,-26.5],[-1.8,-25.4],[-2.1,-27.2],[10.8,-28.1],[11.3,-26.7],[8.4,-25.2],[5.3,-29.6],[29.3,-33],[29.3,-38.7],
[1,42],[1.5,41],[2,41.5],[-1,41.5],[5,40.5],[6.5,46],[6,48.5],[7,44.5],[3,50],[2,49.5],[-25,17],[-22,16],[-23,17],[-26,25],[-20,17],[-28,24],[-22,24.5],[22,20],[23,20],[22,18],[23,17],[24.5,19.7],[21,15],[21,13.5],[22,19.2],[23.5,19],[20,16.5],[20,14.8],[23.3,21.5],[-29,-2],[-28,-1],[-29,-4.2],[-28,-5],[-26,-2.5],[-22.5,-4.5],[-24,1],[-26.5,0.5],[-25,2],[-24,3.5],[-27.5,-3.5],[-21.8,-2.5],[-29,-1.5],[-23,-0.5],[-25,-6.5],[-22.5,-6.8],[2,-1.5],[4.5,-2],[2.5,-1],[-0.5,-3],[0,-5.2],[-0.3,-4],[-27,-26],[-28,-26],[-27,-25],[-26.5,-32],[-22,-24],[-24.5,-24.5],
[0,-28],[1,-28],[2,-29],[-1,-30],[0,-31],[1,-30],[1,-32],[-1,-32.5],[0,-33],[1,-33],[2,-32],[2.8,-29],[3,-31],[1.5,-26],[2.5,-25],[1,-26],[-2,-29],[-2,-31],[0,-32.2],[-0.8,-31],[3.5,-31],[1,-34.5],[37,-0.5],[38,-1],[39,0],[40,-0.3],[39,-2],[41,-1],[37.5,1],[38.5,0.5],[42,-1],[39.3,-2.5],[40.3,-0.8],[41,-3]];

var markovPoints = [[3.3,52.3],[1.5,51.2],[5.6,49.8],[8.9,49.1],[0.9,49],[1.8,49.3],[-0.6,47.6],[7,47.7],[0.2,47.2],[-2.6,46],[-3.2,44.8],[2.9,46.9],[4.1,46.2],[2.2,45.5],[8.4,45.8],[7,45.5],[5.8,44.4],[-0.6,44.4],[-1.8,42.3],[-3.7,42.7],[-4.5,41.7],[-5.4,40.7],[3.5,44.8],[1.8,42.7],[4.8,43],[7.3,43.7],[8.4,42.5],[6.4,41.6],[3.8,40.9],[-1.1,40.6],[-0.5,39.6],[12,41.8],[9.2,40.6],[10.8,39.3],[-3.3,38.4],[0,38.7],[1.5,39.1],[2.2,39.1],[3.5,39.3],[4.8,38.7],[6.4,38.9],[5.9,37.4],[0.2,35.6],[3.3,36.7],[3.3,35.3],[4.6,35],[9.7,36.1],[10.4,34.9],[11.2,33.2],[3.1,32.7],[3.7,33.5],[4.8,33],
[-29,20.8],[-28.8,19.1],[-26.5,24.9],[-25.3,25.6],[-23.7,26.2],[-22,26],[-23.2,24.3],[-21.2,24.2],[-19.3,24.4],[-19.8,23],[-17.4,22.4],[-27,21.4],[-25.7,23.4],[-24.7,22],[-23.4,21.3],[-22,22],[-20.4,21.6],[-27,19.9],[-25.3,19.9],[-23.4,19.5],[-21.7,19.5],[-20,19.9],[-26.9,18.4],[-24.7,18.4],[-23,18.1],[-21.2,18.1],[-19.1,18.1],[-20,16.7],[-23.3,16.5],[-25.6,16.1],[-16.6,17.4],[-16.8,14.1],
[-5.5,27.4],[-3.7,26.5],[-2.6,26.7],[-1.1,25.5],[0,25.7],[-7.1,24.3],[-3.7,25.1],[-7,23.4],[-6.3,22.3],[-5.4,23.4],[-4.1,23.4],[-2.8,23.4],[-0.1,23.9],[0.9,22.4],[2.4,22.7],[-0.5,21.8],[-3.1,21.9],[-1.4,20.9],[-4.1,20.9],[-5,19.9],[0.4,20.5],[-9.5,21.5],[-9.6,20.8],[-2.3,18.9],[-0.5,18.8],[-8.3,18.2],[-3.4,17.5],[-1.4,16.8],[-10.3,15.4],[-5,15.6],[-5.7,14.6],[-2.4,15.3],[-0.8,15.6],[-4,14.2],[-2.4,13.9],[-1.4,14.2],[0,13],[-4.4,13.2],[-3.4,11.8],[-4.7,11.4],[-5.4,11.1],[-1.8,12.9],[-0.7,11.1],[-4.7,10.2],[3.5,16.5],[4.3,16.8],[5.3,17],[10.9,20.4],[14.1,21.3],[5.9,11.4],[5.9,10.4],
[24.7,26.5],[21,23.9],[27.7,24.4],[24.4,24.4],[26,23.4],[21.5,22.8],[23.8,22.4],[25.1,22.3],[26.8,22.3],[20.2,21.6],[21.8,20.9],[28.5,21.4],[27.1,20.9],[18.8,19.9],[20.2,18.8],[25.4,20.6],[28.5,19.5],[27.6,18.4],[25.7,18.8],[27.7,17.4],[23.8,17.4],[21.1,17],[19.2,16.4],[24.4,16.4],[26.4,16.7],[29.1,16.1],[29.2,14.6],[27.7,15.3],[23.8,15.3],[25.4,14.1],[23.6,13.4],[26.8,12.5],[26.1,12.9],[22,12.5],[15.6,14.1],[17.7,10.9],[18.5,10],[19.2,9.7],[21.5,10.2],[23.4,11.2],[25.7,10],[28.3,9],[21.3,8.3],[23.6,8.3],[26.4,7.4],[27.6,7.2],[31.8,7.1],[32.7,7.2],[33.3,8],
[-44.6,11.1],[-43.3,12.5],[-41.4,11.4],[-44,10],[-42.3,10.4],[-40.7,9.7],[-44.6,8.9],[-43.3,8.9],[-42,9],[-40.7,8.3],[-44,7.6],[-42.3,7.6],[-42,6.4],[-28.5,10.3],[-25,9.3],[-24.2,10.5],[-21.7,8.2],[-29.6,5],
[-29.4,4.9],[-9,1.1],[-16.8,0.2],[-15.2,0.2],[-17.5,-2.6],[-16.8,-1.5],[-15.8,-1.5],[-14.9,-1.5],[-14.1,-1.5],[-15.1,-5.1],[-17.7,-5.6],[-17.3,-6.8],[-15.6,-7.5],[-19.1,-3.5],[-19.8,-5.8],[-21.1,-7.6],[-19,-9.8],[-20.9,-11.8],[-23.3,-13.7],
[-25.3,0.4],[-27.9,-0.1],[-29.9,-0.5],[-32.4,-1.9],[-35,-3.8],[-35.1,-4.4],[-32.4,-5.2],[-31.3,-4.4],[-30.4,-5.4],[-34.4,-6.6],[-32.1,-7.2],[-31,-7],[-27.9,-2.2],[-27.6,-3.6],[-26,-1.9],[-24.7,-1.5],[-22.8,-1.2],[-22.4,-2.2],[-21.1,-3.3],[-24,-4],[-25.6,-5.4],[-24,-5.8],[-23.3,-5.1],[-26,-6.8],[-28.3,-6.8],[-27.6,-7.9],[-29.3,-8.9],[-28.3,-9.8],[-27,-9.6],[-25.7,-8.6],[-25.7,-10.3],[-24,-9.6],[-24,-11],[-24.7,-11.4],[-25.5,-11.9],[-32.6,-10.7],[-29.7,-12.1],[-29.7,-12.6],[-21.4,-6.5],
[-5.2,-2.4],[-3.7,1.8],[-2.4,-0.1],[-0.5,-0.3],[0.2,-0.1],[1.7,2],[2.2,0.6],[3.5,0.6],[1.8,-0.8],[3.8,-0.8],[-1.4,-2.2],[0.2,-2.6],[1.5,-3.3],[2.8,-3.6],[3.8,-3.3],[-3.7,-2.6],[-2.1,-5.1],[0.9,-4.7],[2.2,-5.1],[3.5,-5.1],[1.5,-6.5],[5.4,-1.5],[5.9,3.7],[6.7,-1.1],[8.4,0.9],[9,-0.5],[9.5,-1.2],[11.2,1.6],[5.4,-2.9],[5.8,-4.7],[7.7,-3.6],[8.7,-3.6],[7.1,-5.8],[-1.8,-8.9],[-2.6,-9.6],[-1.1,-9.1],[0.2,-7.4],[0.5,-9.3],[-2.1,-6.5],[-5.8,-10],[3.3,-7.2],[4.8,-7.2],[4.1,-8.2],[5.8,-9.3],[2.8,-10.3],[3.8,-9.6],[7.3,-7.9],[9.2,-9.6],[9.9,-6.1],[12.3,-2.9],[12.5,-6.8],[13.1,-8.9],[11.8,-12.1],[3.9,-11.9],[6.4,-11.7],[6.9,-13],[4,-14],[3.3,-15],[2.7,-15.7],[-5.8,-14.4],[-6.7,-12.1],[-3.2,-13.3],[-2.4,-15.9],[-4.4,-16.1],[-0.5,4.9],
[14.3,1.3],[14.6,4.4],[13.9,3.4],[16.6,3.7],[18.2,3.7],[16.9,2],[16.2,0.2],[18.5,2.3],[21.8,3.7],[16,-2.2],[20.2,-0.5],[19.2,-1.5],[18.8,-3.3],[21.3,-1.5],[22.9,-1.4],[15.5,-5.2],[17.5,-7.2],[22.2,-7.4],[26.2,-6],[30,-1],[15.9,-9.6],[16.2,-11],[17.2,-10.3],[20.2,-10.3],[21.5,-11],[24.7,-11.2],[22.8,-12.1],[19.8,-12.4],[17.2,-13.1],[15.9,-14.2],[16.9,-14.2],[19,-14.5],[20.4,-13.5],[21.7,-13.8],[23.1,-13.5],[24.9,-13.5],[26.7,-13.8],[24.7,-15.4],[23.1,-15.2],[21.5,-15.2],[20.4,-16.6],[18.8,-16],[14.1,-15.9],[22,-17],[17.7,-18.2],[23.8,-18.4],
[25.9,4.9],[28,3.7],[30.4,4.9],[32.6,1.6],[32.3,0.2],[32.9,-1.2],[35.5,2.1],[38.8,2.3],[37.8,0.9],[40.9,2.8],[42.7,2.1],[42.4,0.2],[43.7,-0.1],[44.4,-1.2],[43.5,-3.1],[31.6,-3.6],[32.9,-3.6],[33.2,-5.1],[34.9,-4.7],[37.2,-3.4],[38.8,-2.4],[38.5,-4.7],[40.4,-4],[41.8,-3.6],[35.5,-6.6],[33.6,-7.6],[37.2,-8.4],[38.8,-6.8],[40.4,-6.8],[42.1,-6.6],[38.5,-8.9],[40.4,-8.2],[39.1,-10],[40.8,-10.3],[42.1,-9.6],[42.8,-10.1],[44.4,-6.5],[45.4,-7.4],[45.3,-7.9],[36.9,-11.4],[37.2,-11],[39.5,-11.7],[38.8,-14.5],[40.4,-14.5],[40.1,-15.4],
[-24.8,-23.6],[-20.4,-24.7],[-19.1,-25.8],[-20.1,-26.7],[-20.8,-26.9],[-25,-25.4],[-26.3,-27.2],[-24.7,-27.2],[-23,-26.8],[-21.7,-26.5],[-27,-28.9],[-25.3,-28.9],[-23.7,-28.6],[-22.4,-28.9],[-27.9,-30.3],[-26.3,-30.3],[-24.8,-31.7],[-23,-31],[-21.7,-30],[-19.8,-29.6],[-19.1,-28.9],[-20.9,-31],[-22.2,-32.4],[-20.9,-32.8],[-19.1,-32.1],[-15.1,-24],[-14.7,-24.1],
[-7.7,-18.5],[-3.4,-18.4],[-3.7,-19.4],[-2.4,-19.4],[-3.7,-20.8],[-1.8,-21.2],[-0.8,-21.2],[-4.1,-22.6],[-5.4,-23.2],[-2.7,-24.4],[-4.1,-25.1],[-3.1,-25.4],[-1.1,-24],[-0.8,-25.4],[0.2,-25.8],[1.2,-20.8],[2.5,-20.8],[0.2,-22.2],[4.5,-22.4],[3.5,-24.1],[5.3,-22.6],[7.3,-23.3],[6.2,-23.6],[8.5,-22.2],[11,-22.6],[5.1,-25.4],[6.4,-24.7],[9.2,-25.8],[3.5,-26.8],[4.8,-27.2],[2.2,-27.5],[6.4,-27.5],[7.7,-27.5],[-7.9,-27.2],[5.4,-28.9],[7.1,-28.9],[8.4,-29.1],[6.1,-30.3],[4.1,-30.3],[2.8,-30.7],[8,-31.7],[6.7,-32.3],[5.1,-33.8],[2.9,-34.7],[-4.1,-34.4],
[29.4,-31.4],[27.7,-33.1],[27.4,-34.7],[26.6,-36.8],[31.3,-33.1],[33.2,-34.5],[32.9,-35.9],[29,-34.7],[30.3,-34.2],[28,-35.9],[29.6,-35.9],[31.3,-35.5],[28,-37.3],[29.6,-37.3],[31.3,-37.3],[32.6,-37.7],[28.9,-39.2],[31.1,-39.2],
[1,46],[2,47.5],[3,46],[4,44.5],[2,44],[3,43],[5,46],[5.5,47],[3.5,48],[1.5,43],[0,45.5],[-0.5,46],[0.5,43],[6,43],[2.5,48.5],[1,45],[6,42.5],[4,48],[-26,21],[-25,21],[-24,20.5],[-23,20],[-22,20.5],[-21,21],[-20,21],[-24,18.5],[-22,18.5],[-25,18],[-19,20],[-26,20],[-23,22.5],[-24.5,23.5],[-21,22.8],[-20,18.5],[-5,24.5],[-4,24],[-3,23],[-4,22],[-5.5,21.5],[-2,22.5],[-1,22.5],[-3,25],[-6,25.5],[-2,21],[-4.5,15],[-3.5,15],[-3,13],[-2,12.5],[-3,15.8],[-5,12.5],[-2.5,11],[-0.5,13.5],[21,20],[22.5,21.5],[24,23],[25,23.8],[23,21],[26,21],[24,20.8],[22.5,23],[20,23.5],[25,24.5],
[-43,10],[-42,10.2],[-41.5,8],[-43,8],[-44,8.5],[-42.5,9],[-41,9],[-43.5,6.8],[-41.2,7.5],[-45,9.5],[-39.8,9.5],[-43.8,12],[-25.5,-1],[-24.5,-2.8],[-24,-3],[-25.5,-3.5],[-23,-3],[-27,-6],[-26,-4],[-29,-6],[2,-2],[1,-2],[3,-2.5],[2,-4],[3,-4],[1,-5.5],[2.8,-5.8],[4,-6],[4,-9.5],[5,-8],[3,-8],[5.5,-7],[1,-3],[-25,-26.5],[-24,-26],[-25,-28],[-24,-29],[-23,-28],[-26,-29],[-24,-30],[-27,-29.8],[-25.5,-30],[-22.5,-29.8],[-20.5,-30],[-20.8,-29],[-26,-26],[-20,-32],[-21.5,-31.5],[-19.5,-31],
[28,-34],[29,-33.5],[30.5,-33],[29.5,-35],[30.5,-35],[28.5,-36],[30,-37],[31.3,-36.5],[32,-34.5],[27.5,-36.5],[32,-36],[28.5,-38],[30,-38.2],[31,-38],[29,-37],[27.8,-35],[30.5,-32.5],[33,-33.5],[27.5,-38],[20,-12],[21,-13],[22,-13],[21,-14.5],[22.5,-14.5],[23.5,-14.5],[20,-15],[22,-16],[24,-16.5],[23,-13],[25,-14.5],[21,-11.8],[22,-11.8],[19,-13.5],[23.7,-12.3],[39,-5.5],[40,-5.5],[41,-5],[39.5,-7.5],[41.5,-8],[38,-7],[39.8,-9.5],[40,-11.8],[7,-2.5],[6,-3],[6.5,-5]];

var labelRaw = "RAW Data";
var labelEda = "EDA-based Data";
var labelLlm = "LLMs-based Data";
var labelMarkov = "MarkovChain-based Data";

var ticksEdaX = [-40, -20, 0, 20, 40, 60];
var ticksEdaY = [-60, -40, -20, 0, 20, 40, 60];
var ticksLlmX = [-40, -20, 0, 20, 40, 60];
var ticksLlmY = [-40, -20, 0, 20, 40, 60];
var ticksMarkovX = [-40, -20, 0, 20, 40];
var ticksMarkovY = [-40, -20, 0, 20, 40];

var red = "#e94a23";
var blue = "#5581c5";
var dotR = 4.6;
var fontSize = 10.8;

var panels = [
    {raw: rawEda, gen: edaPoints, label: labelEda, ticksX: ticksEdaX, ticksY: ticksEdaY,
     left: 24.5, right: 631.4, top: 0.5, bottom: 483, xDomain: [-53.9, 72], yDomain: [-61.4, 69],
     legendX: 512, legendW: 113.7},
    {raw: rawLlm, gen: llmPoints, label: labelLlm, ticksX: ticksLlmX, ticksY: ticksLlmY,
     left: 658.4, right: 1265, top: 0.5, bottom: 483, xDomain: [-58.7, 62.9], yDomain: [-49.7, 66],
     legendX: 1141, legendW: 119},
    {raw: rawMarkov, gen: markovPoints, label: labelMarkov, ticksX: ticksMarkovX, ticksY: ticksMarkovY,
     left: 1292.7, right: 1898.8, top: 0.5, bottom: 483, xDomain: [-50.1, 50.3], yDomain: [-43.7, 57.7],
     legendX: 1742.3, legendW: 154.4}
];

var svg = d3.select("#chart").append("svg")
    .attr("width", 1900)
    .attr("height", 499);

panels.forEach(function(p) {
    var x = d3.scaleLinear().domain(p.xDomain).range([p.left, p.right]);
    var y = d3.scaleLinear().domain(p.yDomain).range([p.bottom, p.top]);
    var g = svg.append("g");

    [[p.raw, red], [p.gen, blue]].forEach(function(s) {
        g.append("g").selectAll("circle")
            .data(s[0])
            .enter()
            .append("circle")
            .attr("cx", function(d) { return x(d[0]); })
            .attr("cy", function(d) { return y(d[1]); })
            .attr("r", dotR)
            .attr("fill", s[1]);
    });

    var fmt = function(d) { return d3.format("d")(d).replace("-", "\u2212"); };

    var xAxis = g.append("g")
        .attr("transform", "translate(0," + p.bottom + ")")
        .call(d3.axisBottom(x).tickValues(p.ticksX).tickSize(3.5).tickPadding(2.6).tickFormat(fmt));
    var yAxis = g.append("g")
        .attr("transform", "translate(" + p.left + ",0)")
        .call(d3.axisLeft(y).tickValues(p.ticksY).tickSize(3.5).tickPadding(4).tickFormat(fmt));

    [xAxis, yAxis].forEach(function(a) {
        a.select(".domain").remove();
        a.selectAll("text").attr("font-size", fontSize).attr("font-family", "Liberation Serif");
        a.selectAll("line").attr("stroke", "#000").attr("stroke-width", 0.8);
    });

    g.append("rect")
        .attr("x", p.left)
        .attr("y", p.top)
        .attr("width", p.right - p.left)
        .attr("height", p.bottom - p.top)
        .attr("fill", "none")
        .attr("stroke", "#000")
        .attr("stroke-width", 1);

    // legend
    var lg = g.append("g").attr("transform", "translate(" + p.legendX + ",4.7)");
    lg.append("rect")
        .attr("width", p.legendW)
        .attr("height", 36)
        .attr("rx", 1.5)
        .attr("fill", "#fff")
        .attr("fill-opacity", 0.8)
        .attr("stroke", "#dcdcdc")
        .attr("stroke-width", 0.8);
    [[labelRaw, red, 10], [p.label, blue, 25.6]].forEach(function(e) {
        lg.append("circle").attr("cx", 15.6).attr("cy", e[2]).attr("r", 4.2).attr("fill", e[1]);
        lg.append("text").attr("x", 35.7).attr("y", e[2] + 3.6).attr("font-size", fontSize).text(e[0]);
    });
});
</script>
</body>
</html>
